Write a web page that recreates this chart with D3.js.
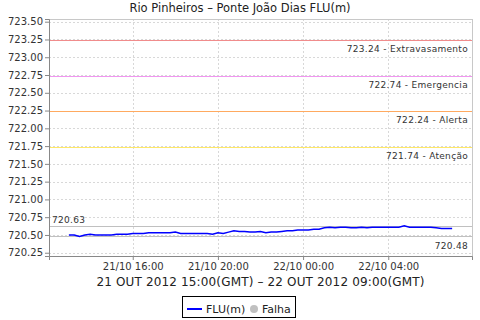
<!DOCTYPE html>
<html>
<head>
<meta charset="utf-8">
<script src="https://cdn.jsdelivr.net/npm/d3@7"></script>
<style>
  body { margin: 0; background: #fff; }
  text { font-family: "DejaVu Sans", sans-serif; }
</style>
</head>
<body>
<script>
// level readings every 15 min, 21/10 13:00 -> 22/10 07:00 (local time)
const startTime = Date.UTC(2012, 9, 21, 13, 0);
const stepMin = 15;
const levels = [
  720.50, 720.50, 720.48, 720.50, 720.51, 720.50, 720.50, 720.50, 720.50, 720.51,
  720.51, 720.51, 720.52, 720.52, 720.52, 720.53, 720.53, 720.53, 720.53, 720.53,
  720.54, 720.52, 720.52, 720.52, 720.52, 720.52, 720.52, 720.51, 720.53, 720.52,
  720.54, 720.56, 720.55, 720.55, 720.54, 720.54, 720.55, 720.53, 720.54, 720.54,
  720.55, 720.56, 720.56, 720.57, 720.57, 720.57, 720.58, 720.58, 720.60, 720.61,
  720.60, 720.61, 720.61, 720.60, 720.60, 720.61, 720.60, 720.61, 720.61, 720.61,
  720.61, 720.61, 720.61, 720.63, 720.61, 720.61, 720.61, 720.61, 720.61, 720.60,
  720.59, 720.59, 720.59
];

const thresholds = [723.24, 722.74, 722.24, 721.74];
const thresholdNames = ["Extravasamento", "Emergencia", "Alerta", "Atenção"];
const thresholdColors = ["#f08c8c", "#f096f0", "#ffaa60", "#ffe866"];

const yTicks = [720.25, 720.50, 720.75, 721.00, 721.25, 721.50, 721.75, 722.00,
                722.25, 722.50, 722.75, 723.00, 723.25, 723.50];

const title = "Rio Pinheiros – Ponte João Dias FLU(m)";
const xTitle = "21 OUT 2012 15:00(GMT) – 22 OUT 2012 09:00(GMT)";
const legendNames = ["FLU(m)", "Falha"];

const data = levels.map((v, i) => ({t: new Date(startTime + i * stepMin * 60000), v: v}));
const maxV = d3.max(levels), minV = d3.min(levels);

const width = 480, height = 320;
const pLeft = 49, pRight = 472, pTop = 19, pBottom = 256;

const svg = d3.select("body").append("svg")
  .attr("width", width).attr("height", height);

const x = d3.scaleUtc()
  .domain([new Date(Date.UTC(2012, 9, 21, 12, 4)), new Date(Date.UTC(2012, 9, 22, 7, 56))])
  .range([pLeft, pRight]);
const y = d3.scaleLinear().domain([720.204, 723.538]).range([pBottom, pTop]);

const xTicks = x.ticks(d3.utcHour.every(4));

// grid
const grid = svg.append("g").attr("stroke", "#d8d8d8").attr("stroke-dasharray", "2,2")
  .attr("shape-rendering", "crispEdges");
grid.selectAll(".hg").data(yTicks).join("line")
  .attr("x1", pLeft).attr("x2", pRight)
  .attr("y1", d => Math.round(y(d)) + 0.5).attr("y2", d => Math.round(y(d)) + 0.5);
grid.selectAll(".vg").data(xTicks).join("line")
  .attr("y1", pTop).attr("y2", pBottom)
  .attr("x1", d => Math.round(x(d)) + 0.5).attr("x2", d => Math.round(x(d)) + 0.5);

// plot outline
svg.append("rect").attr("x", pLeft + 0.5).attr("y", pTop + 0.5)
  .attr("width", pRight - pLeft).attr("height", pBottom - pTop)
  .attr("fill", "none").attr("stroke", "#c8c8c8");

// threshold markers
thresholds.forEach((t, i) => {
  const yy = Math.round(y(t)) + 0.5;
  svg.append("line").attr("x1", pLeft + 1).attr("x2", pRight).attr("y1", yy).attr("y2", yy)
    .attr("stroke", thresholdColors[i]).attr("stroke-width", 1.5)
    .attr("shape-rendering", "crispEdges");
  svg.append("text").attr("x", 468).attr("y", yy + 11)
    .attr("text-anchor", "end").attr("font-size", 9).attr("fill", "#333")
    .attr("letter-spacing", 0.3)
    .text(t.toFixed(2) + " - " + thresholdNames[i]);
});

// max / min markers
[maxV, minV].forEach((v, i) => {
  const yy = Math.round(y(v)) + 0.5;
  svg.append("line").attr("x1", pLeft).attr("x2", pRight).attr("y1", yy).attr("y2", yy)
    .attr("stroke", "#c0c0c0");
  svg.append("text")
    .attr("x", i == 0 ? 52 : 468).attr("y", i == 0 ? yy - 3.5 : yy + 12)
    .attr("text-anchor", i == 0 ? "start" : "end")
    .attr("font-size", 9).attr("fill", "#333").attr("letter-spacing", 0.3)
    .text(v.toFixed(2));
});

// series
svg.append("path").datum(data)
  .attr("fill", "none").attr("stroke", "#0000ff").attr("stroke-width", 1.5)
  .attr("d", d3.line().x(d => x(d.t)).y(d => y(d.v)));

// axes
const yAxis = svg.append("g").attr("transform", `translate(${pLeft},0)`)
  .call(d3.axisLeft(y).tickValues(yTicks).tickFormat(d3.format(".2f")).tickSize(4).tickPadding(2));
const xAxis = svg.append("g").attr("transform", `translate(0,${pBottom})`)
  .call(d3.axisBottom(x).tickValues(xTicks).tickFormat(d3.utcFormat("%d/%m %H:%M")).tickSize(4).tickPadding(3));
[yAxis, xAxis].forEach(a => {
  a.select(".domain").attr("stroke", "#888");
  a.selectAll(".tick line").attr("stroke", "#888");
  a.selectAll(".tick text").attr("fill", "#333").attr("font-size", 10)
    .attr("font-family", "DejaVu Sans, sans-serif");
});

// titles
svg.append("text").attr("x", 240).attr("y", 12).attr("text-anchor", "middle")
  .attr("font-size", 11.5).attr("fill", "#222").text(title);
svg.append("text").attr("x", (pLeft + pRight) / 2).attr("y", 286).attr("text-anchor", "middle")
  .attr("font-size", 12).attr("fill", "#222").attr("letter-spacing", 0.15).text(xTitle);

// legend
const lg = svg.append("g");
lg.append("rect").attr("x", 182.5).attr("y", 296.5).attr("width", 113).attr("height", 21)
  .attr("fill", "#fff").attr("stroke", "#000");
lg.append("line").attr("x1", 187).attr("x2", 202).attr("y1", 309).attr("y2", 309)
  .attr("stroke", "#0000ff").attr("stroke-width", 2);
lg.append("text").attr("x", 206).attr("y", 313).attr("font-size", 11).attr("fill", "#222").text(legendNames[0]);
lg.append("circle").attr("cx", 254).attr("cy", 309).attr("r", 4).attr("fill", "#c0c0c0");
lg.append("text").attr("x", 262).attr("y", 313).attr("font-size", 11).attr("fill", "#222").text(legendNames[1]);
</script>
</body>
</html>
